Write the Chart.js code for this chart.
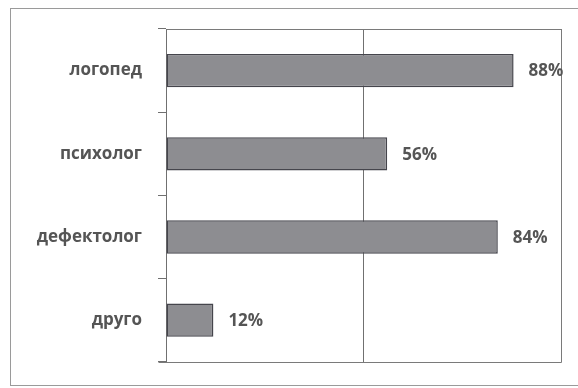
<!DOCTYPE html>
<html>
<head>
<meta charset="utf-8">
<script src="https://cdn.jsdelivr.net/npm/chart.js@4"></script>
<style>
  html, body { margin: 0; padding: 0; background: #fff; }
  #wrap { width: 578px; height: 388px; }
</style>
</head>
<body>
<div id="wrap"><canvas id="myChart" width="578" height="388"></canvas></div>
<script>
const categories = ['логопед', 'психолог', 'дефектолог', 'друго'];
const percents = [88, 56, 84, 12];
const axisSteps = [0, 50, 100];

const FONT = '"Open Sans", "DejaVu Sans", sans-serif';

// outer frame, plot box and the % labels next to the bars
const decor = {
  id: 'decor',
  beforeDraw(chart) {
    const c = chart.ctx;
    c.save();
    c.fillStyle = '#fff';
    c.fillRect(0, 0, chart.width, chart.height);
    c.strokeStyle = '#9a9a9a';
    c.lineWidth = 1;
    c.strokeRect(10.5, 8.5, chart.width + 10, 377);
    c.restore();
  },
  afterDraw(chart) {
    const c = chart.ctx;
    const x = chart.scales.x, y = chart.scales.y;
    const l = Math.round(x.getPixelForValue(0)) + 0.5;
    const r = Math.round(x.getPixelForValue(100)) + 0.5;
    const t = Math.round(y.top) + 0.5;
    const b = Math.round(y.bottom) + 0.5;
    c.save();
    c.strokeStyle = '#7a7a7a';
    c.lineWidth = 1;
    c.beginPath();
    c.moveTo(l, t);
    c.lineTo(r, t);
    c.lineTo(r, b);
    c.lineTo(l - 8, b);
    c.stroke();
    c.font = 'bold 17px ' + FONT;
    c.fillStyle = '#555';
    c.textBaseline = 'middle';
    chart.getDatasetMeta(0).data.forEach((bar, i) => {
      c.fillText(percents[i] + '%', bar.x + 15, bar.y + 1);
    });
    c.restore();
  }
};

const ctx = document.getElementById('myChart').getContext('2d');

new Chart(ctx, {
  type: 'bar',
  data: {
    labels: categories,
    datasets: [{
      data: percents,
      backgroundColor: '#8d8d91',
      borderColor: '#45454c',
      borderWidth: 1.5,
      borderSkipped: false,
      barPercentage: 0.4,
      categoryPercentage: 1
    }]
  },
  options: {
    indexAxis: 'y',
    responsive: false,
    animation: false,
    layout: { padding: { left: 0, top: 29, right: 17, bottom: 12 } },
    plugins: { legend: { display: false }, tooltip: { enabled: false } },
    scales: {
      x: {
        min: 0,
        max: 100,
        afterBuildTicks: s => { s.ticks = axisSteps.map(v => ({ value: v })); },
        ticks: { display: false },
        grid: { color: '#707070', lineWidth: 1, drawTicks: false },
        border: { display: false }
      },
      y: {
        afterFit: s => { s.width = 166; },
        ticks: {
          color: '#555',
          padding: 16,
          font: { family: FONT, size: 17, weight: 'bold' }
        },
        grid: { drawOnChartArea: false, tickLength: 8, color: '#707070' },
        border: { color: '#707070', width: 1 }
      }
    }
  },
  plugins: [decor]
});
</script>
</body>
</html>
